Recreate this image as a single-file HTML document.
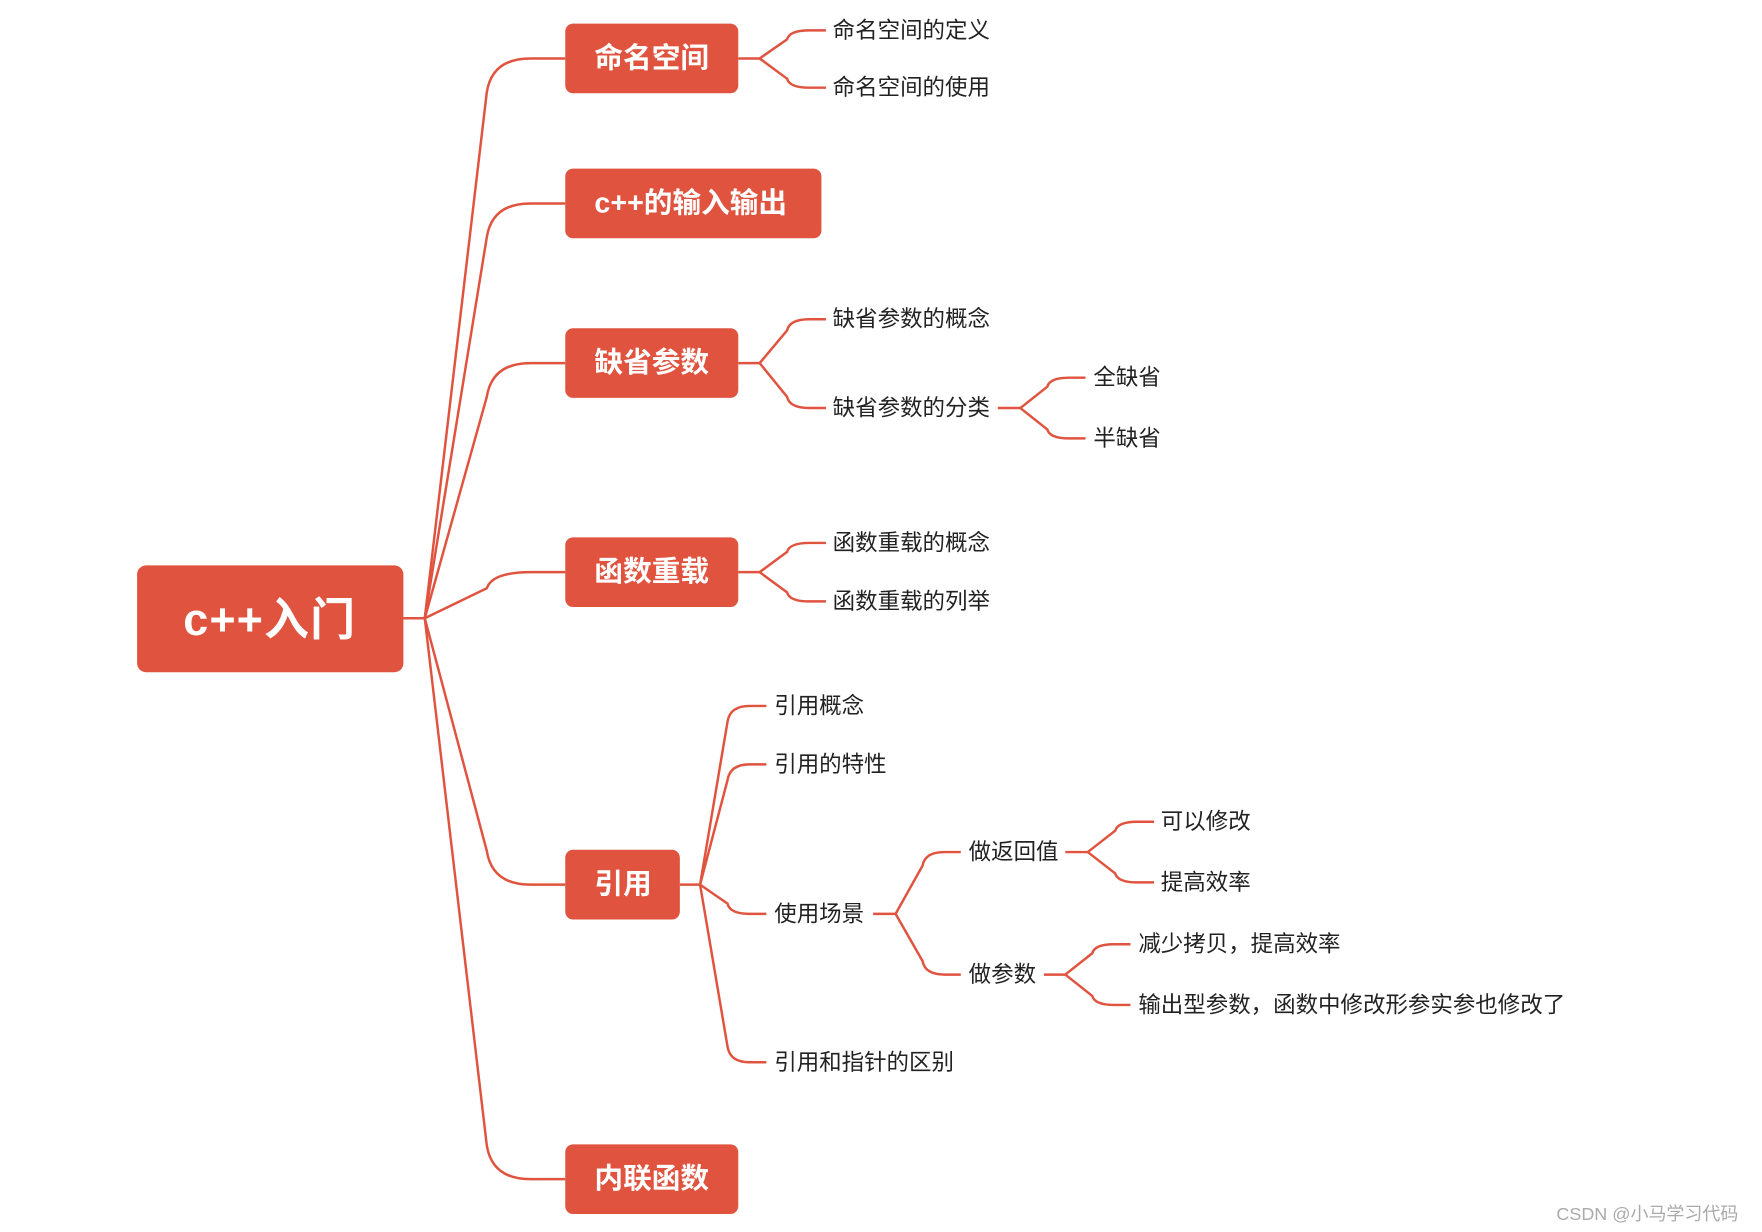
<!DOCTYPE html>
<html><head><meta charset="utf-8"><style>
html,body{margin:0;padding:0;background:#fff;}
svg{display:block;}
text{font-family:"Liberation Sans","Noto Sans CJK SC",sans-serif;}
.b{fill:#fff;font-weight:bold;font-size:25.5px;dominant-baseline:central;}
.t{fill:#222;font-size:20px;dominant-baseline:central;}
</style></head><body>
<svg id="s" width="1762" height="1232" viewBox="0 0 1568 1096" preserveAspectRatio="none" xmlns="http://www.w3.org/2000/svg">
<g id="lines" fill="none" stroke="#E0533F" stroke-width="2.2"></g>
<g fill="#E0533F">
<rect x="122" y="503" width="237" height="95" rx="8"/>
<rect x="503" y="21" width="154" height="62" rx="7"/>
<rect x="503" y="150" width="228" height="62" rx="7"/>
<rect x="503" y="292" width="154" height="62" rx="7"/>
<rect x="503" y="478" width="154" height="62" rx="7"/>
<rect x="503" y="756" width="102" height="62" rx="7"/>
<rect x="503" y="1018" width="154" height="62" rx="7"/>
</g>
<text x="240" y="551" text-anchor="middle" style="fill:#fff;font-size:40px;font-weight:bold;dominant-baseline:central;letter-spacing:1px">c++入门</text>
<text class="b" x="529" y="52">命名空间</text>
<text class="b" x="529" y="181">c++的输入输出</text>
<text class="b" x="529" y="323">缺省参数</text>
<text class="b" x="529" y="509">函数重载</text>
<text class="b" x="529" y="787">引用</text>
<text class="b" x="529" y="1049">内联函数</text>
<text class="t" x="741" y="27">命名空间的定义</text>
<text class="t" x="741" y="78">命名空间的使用</text>
<text class="t" x="741" y="284">缺省参数的概念</text>
<text class="t" x="741" y="363">缺省参数的分类</text>
<text class="t" x="973" y="336">全缺省</text>
<text class="t" x="973" y="390">半缺省</text>
<text class="t" x="741" y="483">函数重载的概念</text>
<text class="t" x="741" y="535">函数重载的列举</text>
<text class="t" x="689" y="628">引用概念</text>
<text class="t" x="689" y="680">引用的特性</text>
<text class="t" x="689" y="813">使用场景</text>
<text class="t" x="689" y="945">引用和指针的区别</text>
<text class="t" x="862" y="758">做返回值</text>
<text class="t" x="862" y="867">做参数</text>
<text class="t" x="1033" y="731">可以修改</text>
<text class="t" x="1033" y="785">提高效率</text>
<text class="t" x="1013" y="840">减少拷贝，提高效率</text>
<text class="t" x="1013" y="894">输出型参数，函数中修改形参实参也修改了</text>
<text x="1385" y="1080" style="fill:#aaa;font-size:16px;dominant-baseline:central">CSDN @小马学习代码</text>
</svg>
<script>
var g=document.getElementById('lines'),d=[];
function br(sx,jx,jy,ex,kids,ctrlx,x1,x2){
  d.push('M'+sx+' '+jy+' L'+jx+' '+jy);
  kids.forEach(function(cy){
    var dy=jy-cy,s=dy>0?1:(dy<0?-1:0),k=Math.min(Math.abs(dy)*0.35,ctrlx);
    if(s==0){d.push('M'+jx+' '+jy+' L'+ex+' '+cy);return;}
    d.push('M'+jx+' '+jy+' L'+(jx+(x1-jx)*0.92)+' '+(cy+s*k)+' Q'+x1+' '+cy+' '+x2+' '+cy+' L'+ex+' '+cy);
  });
}
function sb(sx,jx,jy,ex,kids,c){var L=ex-jx;br(sx,jx,jy,ex,kids,c,jx+L*0.45,jx+L*0.75);}
br(359,378,550,503,[52,181,323,509,787,1049],30,438,472);
sb(657,676,52,735,[27,78],8);
sb(657,676,323,735,[284,363],10);
sb(888,908,363,966,[336,390],8);
sb(657,676,509,735,[483,535],8);
sb(605,623,787,682,[628,680,813,945],14);
sb(777,797,813,855,[758,867],12);
sb(948,968,758,1027,[731,785],8);
sb(929,948,867,1006,[840,894],8);
d.forEach(function(p){var e=document.createElementNS('http://www.w3.org/2000/svg','path');e.setAttribute('d',p);g.appendChild(e);});
</script>
</body></html>
